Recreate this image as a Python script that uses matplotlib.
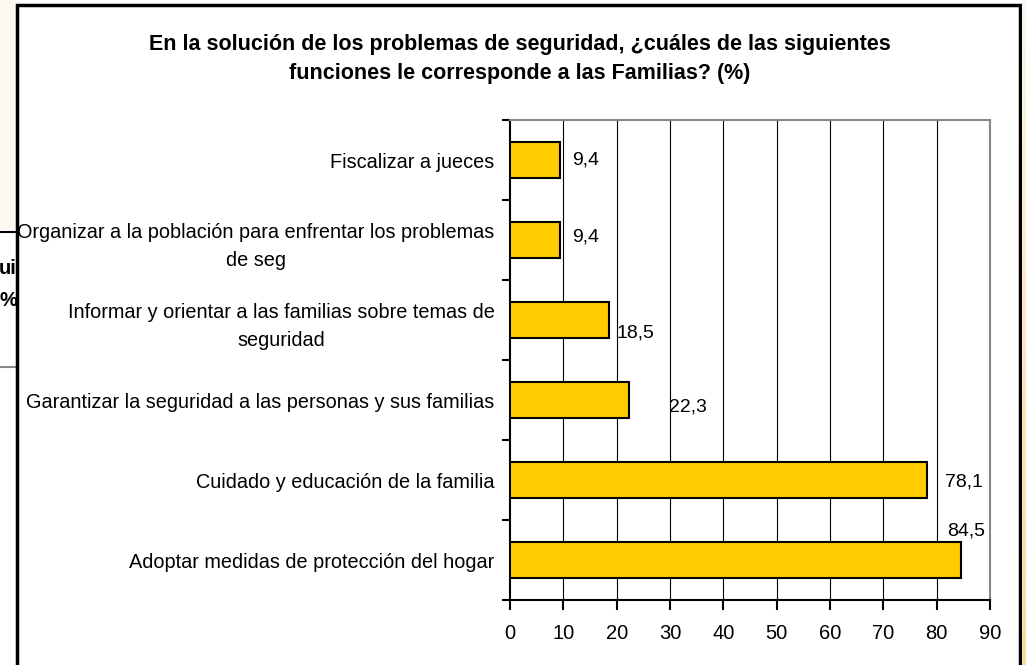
import numpy as np
import matplotlib
matplotlib.use("Agg")
import matplotlib.pyplot as plt
from matplotlib.patches import Rectangle

plt.rcParams['font.family'] = ['Liberation Sans', 'DejaVu Sans']

# --- data (top to bottom as in the chart) ---
categories = [
    "Fiscalizar a jueces",
    "Organizar a la población para enfrentar los problemas\nde seg",
    "Informar y orientar a las familias sobre temas de\nseguridad",
    "Garantizar la seguridad a las personas y sus familias",
    "Cuidado y educación de la familia",
    "Adoptar medidas de protección del hogar",
]
values = [9.4, 9.4, 18.5, 22.3, 78.1, 84.5]
value_labels = ["9,4", "9,4", "18,5", "22,3", "78,1", "84,5"]
x_ticks = list(range(0, 91, 10))

title = ("En la solución de los problemas de seguridad, ¿cuáles de las siguientes\n"
         "funciones le corresponde a las Familias? (%)")

W, H = 1026, 665
fig = plt.figure(figsize=(W / 100, H / 100), dpi=100)

# bits of the slide behind the chart (left edge)
fig.patches.append(Rectangle((0, 1 - 230 / H), 17 / W, 230 / H, transform=fig.transFigure,
                             facecolor='#fdf9f0', edgecolor='none', zorder=-3))
fig.lines.append(plt.Line2D([0, 17 / W], [1 - 232 / H] * 2, transform=fig.transFigure,
                            color='black', lw=1.5, zorder=-2))
fig.lines.append(plt.Line2D([0, 17 / W], [1 - 367 / H] * 2, transform=fig.transFigure,
                            color='#888888', lw=1.5, zorder=-2))
fig.text(17 / W, 1 - 268 / H, "ui", ha='right', va='center', fontsize=14.5,
         fontweight='bold', zorder=-2)
fig.text(17 / W, 1 - 300 / H, "%", ha='right', va='center', fontsize=14.5,
         fontweight='bold', zorder=-2)

# chart frame
fig.patches.append(Rectangle((17 / W, -0.1), (1020 - 17) / W, 1.1 - 5 / H,
                             transform=fig.transFigure, facecolor='white',
                             edgecolor='black', lw=2.5, zorder=-1))

# orange strip on the right edge
grad = fig.add_axes([1022 / W, 0, 4 / W, 1])
grad.imshow(np.linspace(0, 1, 100).reshape(-1, 1), aspect='auto',
            cmap=matplotlib.colors.LinearSegmentedColormap.from_list('o', ['#fdf6ea', '#fbd9a0']))
grad.set_axis_off()

fig.text(520 / W, 1 - 59 / H, title, ha='center', va='center', fontsize=15.5,
         fontweight='bold', linespacing=1.45)

ax = fig.add_axes([510 / W, 1 - 600 / H, 480 / W, 480 / H])
ax.set_facecolor('white')

y = np.arange(len(categories))
ax.barh(y, values, height=0.44, color='#FFCC00', edgecolor='black', lw=1.5, zorder=3)

ax.set_xlim(0, 90)
ax.set_ylim(len(categories) - 0.5, -0.5)
ax.set_xticks(x_ticks)
ax.set_xticklabels([str(t) for t in x_ticks], fontsize=14.5)
ax.tick_params(axis='x', length=7, width=1.5, pad=10)

ax.set_yticks(y)
ax.set_yticklabels(categories, fontsize=14.3, linespacing=1.6)
for lab in ax.get_yticklabels():
    lab.set_multialignment('center')
ax.tick_params(axis='y', which='major', length=0, pad=11)
ax.set_yticks(np.arange(-0.5, len(categories)), minor=True)
ax.tick_params(axis='y', which='minor', length=6, width=1.5)

for t in x_ticks[1:-1]:
    ax.axvline(t, color='black', lw=0.8, zorder=1)

for side in ['top', 'right']:
    ax.spines[side].set_color('#888888')
    ax.spines[side].set_linewidth(1.5)
for side in ['left', 'bottom']:
    ax.spines[side].set_color('black')
    ax.spines[side].set_linewidth(1.5)

# label nudges in pixels (Excel put them a bit off)
nudges = [(12, 0), (12, 3), (8, -13), (40, -7), (18, -2), (-14, 29)]
for i, (v, s) in enumerate(zip(values, value_labels)):
    dx, dy = nudges[i]
    ax.annotate(s, (v, i), xytext=(dx, dy), textcoords='offset pixels',
                ha='left', va='center', fontsize=14, zorder=4)

fig.savefig('out.png', dpi=100)
